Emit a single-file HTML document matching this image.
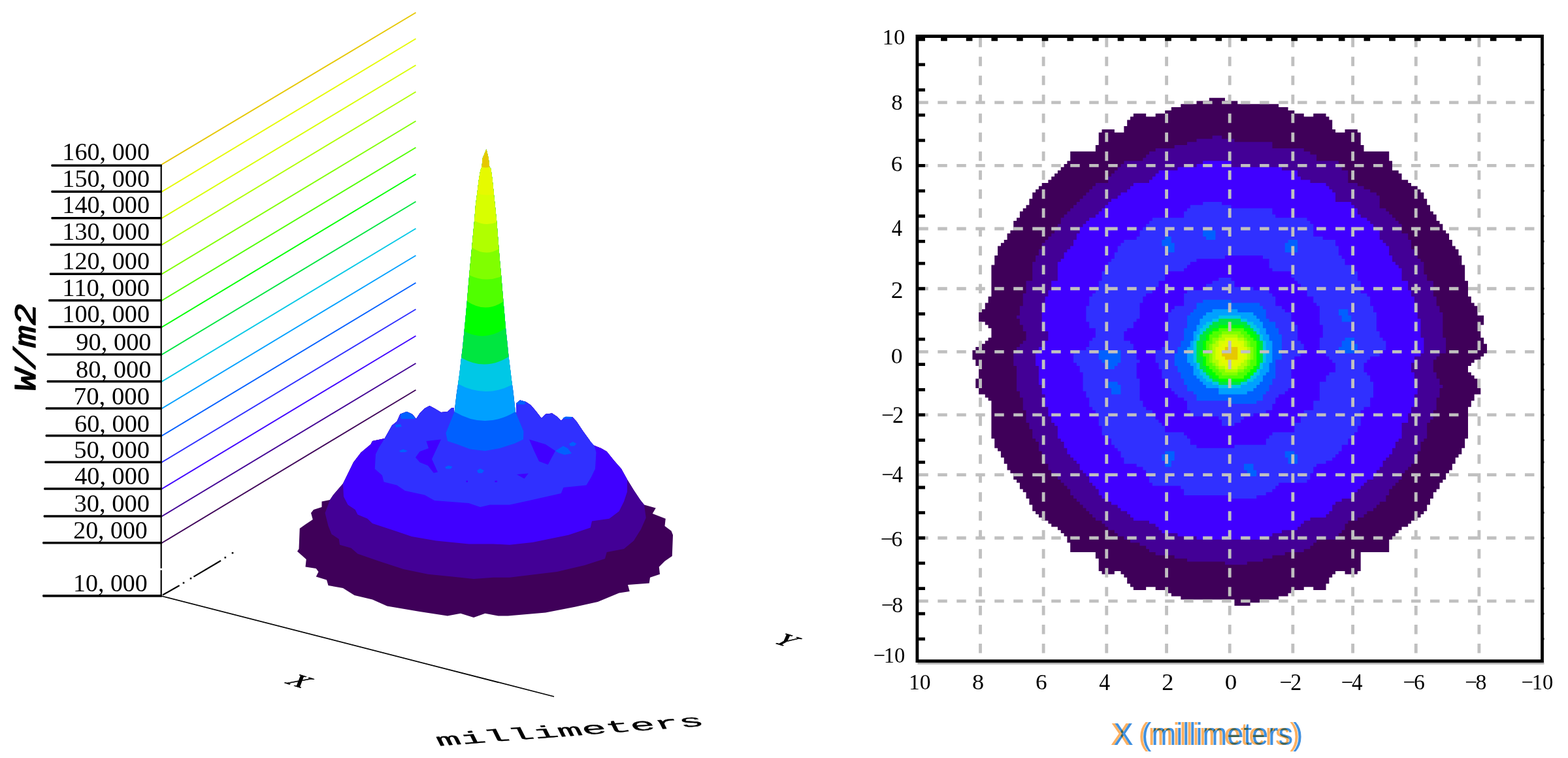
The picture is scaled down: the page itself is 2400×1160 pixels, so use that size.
<!DOCTYPE html>
<html lang="en"><head><meta charset="utf-8"><title>Irradiance plots</title>
<style>html,body{margin:0;padding:0;background:#fff;overflow:hidden}svg{display:block}.zl{font-family:"Liberation Serif",serif;font-size:38px;fill:#000}.tl{font-family:"Liberation Serif",serif;font-size:34px;fill:#000}</style></head><body>
<svg width="2400" height="1160" viewBox="0 0 2400 1160">
<rect width="2400" height="1160" fill="#fff"/>
<g id="plot3d">
<line x1="247.5" y1="251.75" x2="636.5" y2="19.25" stroke="#e6c800" stroke-width="1.9"/>
<line x1="247.5" y1="293.45" x2="636.5" y2="59.25" stroke="#e6fa00" stroke-width="1.9"/>
<line x1="247.5" y1="333.95" x2="636.5" y2="99.75" stroke="#d8ff00" stroke-width="1.9"/>
<line x1="247.5" y1="374.7" x2="636.5" y2="140.5" stroke="#b0ff00" stroke-width="1.9"/>
<line x1="247.5" y1="419.45" x2="636.5" y2="185.25" stroke="#80ff00" stroke-width="1.9"/>
<line x1="247.5" y1="459.95" x2="636.5" y2="225.75" stroke="#50ff00" stroke-width="1.9"/>
<line x1="247.5" y1="500.7" x2="636.5" y2="266.5" stroke="#00ff00" stroke-width="1.9"/>
<line x1="247.5" y1="542.7" x2="636.5" y2="308.5" stroke="#00e640" stroke-width="1.9"/>
<line x1="247.5" y1="583.95" x2="636.5" y2="349.75" stroke="#00c8e6" stroke-width="1.9"/>
<line x1="247.5" y1="625.2" x2="636.5" y2="391" stroke="#00a0ff" stroke-width="1.9"/>
<line x1="247.5" y1="666.95" x2="636.5" y2="432.75" stroke="#0060ff" stroke-width="1.9"/>
<line x1="247.5" y1="707.45" x2="636.5" y2="473.25" stroke="#3030ff" stroke-width="1.9"/>
<line x1="247.5" y1="748.2" x2="636.5" y2="514" stroke="#4000ff" stroke-width="1.9"/>
<line x1="247.5" y1="790.2" x2="636.5" y2="556" stroke="#430096" stroke-width="1.9"/>
<line x1="247.5" y1="830.95" x2="636.5" y2="596.75" stroke="#3f0059" stroke-width="1.9"/>
<g stroke="#000" stroke-width="2.2" fill="#000">
<line x1="249" y1="910.5" x2="274.6" y2="896"/>
<line x1="296.4" y1="882.6" x2="338" y2="858"/>
<rect x="279.7" y="890.7" width="2.6" height="2.6" stroke="none"/>
<rect x="290.7" y="883.9" width="2.6" height="2.6" stroke="none"/>
<rect x="343.5" y="851.9" width="2.6" height="2.6" stroke="none"/>
<rect x="354.7" y="844.9" width="2.6" height="2.6" stroke="none"/>
<line x1="247.5" y1="912.3" x2="848" y2="1066" stroke-width="1.7"/>
</g>
<path d="M246.7 253V869.8M246.7 872.6V912" stroke="#000" stroke-width="2.2" fill="none"/>
<path d="M78.95 251.4H247.9v3.7H78.95q-1.6 -1.85 0 -3.7z" fill="#000"/>
<path d="M78.95 291.4H247.9v3.7H78.95q-1.6 -1.85 0 -3.7z" fill="#000"/>
<path d="M78.95 331.9H247.9v3.7H78.95q-1.6 -1.85 0 -3.7z" fill="#000"/>
<path d="M77.2 372.65H247.9v3.7H77.2q-1.6 -1.85 0 -3.7z" fill="#000"/>
<path d="M76.45 417.4H247.9v3.7H76.45q-1.6 -1.85 0 -3.7z" fill="#000"/>
<path d="M74.7 457.9H247.9v3.7H74.7q-1.6 -1.85 0 -3.7z" fill="#000"/>
<path d="M74.7 498.65H247.9v3.7H74.7q-1.6 -1.85 0 -3.7z" fill="#000"/>
<path d="M72.2 540.65H247.9v3.7H72.2q-1.6 -1.85 0 -3.7z" fill="#000"/>
<path d="M72.2 581.9H247.9v3.7H72.2q-1.6 -1.85 0 -3.7z" fill="#000"/>
<path d="M70.2 623.15H247.9v3.7H70.2q-1.6 -1.85 0 -3.7z" fill="#000"/>
<path d="M70.2 664.9H247.9v3.7H70.2q-1.6 -1.85 0 -3.7z" fill="#000"/>
<path d="M68.95 705.4H247.9v3.7H68.95q-1.6 -1.85 0 -3.7z" fill="#000"/>
<path d="M67.7 746.15H247.9v3.7H67.7q-1.6 -1.85 0 -3.7z" fill="#000"/>
<path d="M67.2 788.15H247.9v3.7H67.2q-1.6 -1.85 0 -3.7z" fill="#000"/>
<path d="M65.7 828.9H247.9v3.7H65.7q-1.6 -1.85 0 -3.7z" fill="#000"/>
<path d="M65.7 910.05H247.9v3.7H65.7q-1.6 -1.85 0 -3.7z" fill="#000"/>
<text font-family='"Liberation Serif",serif' font-size="100" transform="matrix(0.3820,0,0,0.3881,95.31,245.12)">160, 000</text>
<text font-family='"Liberation Serif",serif' font-size="100" transform="matrix(0.3820,0,0,0.3881,95.31,285.87)">150, 000</text>
<text font-family='"Liberation Serif",serif' font-size="100" transform="matrix(0.3820,0,0,0.3881,95.31,326.37)">140, 000</text>
<text font-family='"Liberation Serif",serif' font-size="100" transform="matrix(0.3820,0,0,0.3881,95.31,367.12)">130, 000</text>
<text font-family='"Liberation Serif",serif' font-size="100" transform="matrix(0.3820,0,0,0.3881,95.31,412.12)">120, 000</text>
<text font-family='"Liberation Serif",serif' font-size="100" transform="matrix(0.3866,0,0,0.3881,95.27,453.37)">110, 000</text>
<text font-family='"Liberation Serif",serif' font-size="100" transform="matrix(0.3820,0,0,0.3881,95.31,493.37)">100, 000</text>
<text font-family='"Liberation Serif",serif' font-size="100" transform="matrix(0.3840,0,0,0.3881,116.35,535.87)">90, 000</text>
<text font-family='"Liberation Serif",serif' font-size="100" transform="matrix(0.3853,0,0,0.3881,115.96,578.37)">80, 000</text>
<text font-family='"Liberation Serif",serif' font-size="100" transform="matrix(0.3875,0,0,0.3881,112.79,619.12)">70, 000</text>
<text font-family='"Liberation Serif",serif' font-size="100" transform="matrix(0.3836,0,0,0.3881,113.97,660.87)">60, 000</text>
<text font-family='"Liberation Serif",serif' font-size="100" transform="matrix(0.3862,0,0,0.3881,113.18,700.87)">50, 000</text>
<text font-family='"Liberation Serif",serif' font-size="100" transform="matrix(0.3827,0,0,0.3881,114.23,740.87)">40, 000</text>
<text font-family='"Liberation Serif",serif' font-size="100" transform="matrix(0.3849,0,0,0.3881,113.58,783.37)">30, 000</text>
<text font-family='"Liberation Serif",serif' font-size="100" transform="matrix(0.3784,0,0,0.3881,112.24,824.12)">20, 000</text>
<text font-family='"Liberation Serif",serif' font-size="100" transform="matrix(0.3789,0,0,0.3881,112.09,904.62)">10, 000</text>
<text transform="translate(53.6,599) rotate(-90) scale(1,0.84)" font-family='"Liberation Mono",monospace' font-style="italic" font-size="56" stroke="#000" stroke-width="1.7" stroke-linejoin="round">W/m2</text>
<polygon fill="#3f0059" points="744.4,228.6 747.7,242 749.2,255.7 751.3,258 753.6,274.4 755.9,297 758.1,317.8 760.4,341 762.7,370.2 764.9,397.5 767.2,422.5 769.5,450.3 771.9,477.6 773.9,500.8 776.3,523 778.6,546 780.9,564.2 783.1,582.5 785.4,598.6 788.9,630 801.4,660 790,617.5 796,612.5 805,615 812.5,620 820,628.75 828.75,640 835,633.75 845,632.5 852.5,637.5 858.75,643.75 865,638 876,638 882.5,645 892.5,660 902.5,673.75 905,680 920,686 928.75,691 940,705 951,717.5 960,733.75 970,750 980,765 986,772.5 1003.75,777.5 998.75,786 1018.75,793.75 1017.5,805 1027.5,812.5 1030,818.75 1028.75,851 1017.5,858.75 1008.75,867.5 1010,878.75 995,883.75 993.75,892.5 961,895 963.75,905 947.5,907.5 915,921 880,928.75 835,937.5 777.5,942.5 762.5,942.5 742.5,938.75 725,945 705,938.75 685,942.5 642.5,936 592.5,927.5 570,917.5 542.5,911 525,900 502.5,896 500,887.5 483.75,882.5 487.5,875 483.75,870 467.5,867.5 468.75,856 455,843.75 457.5,840 458.75,808.75 467.5,802.5 478.75,795 476,785 480,780 492.5,776 492.5,767.5 505,765 510,757.5 525,740 530,730 541,707.5 552.5,692.5 567.5,680 570,675 588.75,671 600,651 607.5,645 612.5,633.75 622.5,630 631,633.75 637,641 642.5,632.5 650,625 657.5,621 665,625 675,631 685,630 691,624.5 695,624.5 682.4,662.5 695.6,630 698.7,603.4 701.1,587.4 703.4,571.3 705.7,550.8 708,532.4 710.3,509.2 712.5,487 714.8,461.6 716.9,436.6 719.1,411.6 721.4,387.7 723.7,362.8 726.1,337.8 728.1,312.8 730.7,293.2 733,274.4 735.3,261 737.4,255.7 738.8,242 744.4,228.6"/>
<polygon fill="#430096" points="505,765 497.5,785 502.5,805 507.5,817.5 518.75,825 520,833.75 537.5,838.75 547.5,847.5 580,858.75 617.5,871 655,878.75 692.5,882.5 725,886 755,883.75 780,883.75 802.5,881 852.5,875 895,865 926,855 928.75,845 955,840 970,827.5 981,810 988.75,792.5 986,772.5 986,772.5 980,765 970,750 960,733.75 951,717.5 940,705 928.75,691 920,686 905,680 902.5,673.75 892.5,660 882.5,645 876,638 865,638 858.75,643.75 852.5,637.5 845,632.5 835,633.75 828.75,640 820,628.75 812.5,620 805,615 796,612.5 790,617.5 790,640 695,640 695,624.5 691,624.5 685,630 675,631 665,625 657.5,621 650,625 642.5,632.5 637,641 631,633.75 622.5,630 612.5,633.75 607.5,645 600,651 588.75,671 570,675 567.5,680 552.5,692.5 541,707.5 530,730 525,740 510,757.5 505,765"/>
<polygon fill="#4000ff" points="525,740 526,760 532.5,772.5 543.75,780 547.5,787.5 562.5,793.75 570,801 605,812.5 630,821 667.5,827.5 717.5,832.5 755,832.5 780,833.75 815,830 870,818.75 903.75,807.5 906,797.5 932.5,793.75 947.5,782.5 955,767.5 960,752.5 960,733.75 960,733.75 951,717.5 940,705 928.75,691 920,686 905,680 902.5,673.75 892.5,660 882.5,645 876,638 865,638 858.75,643.75 852.5,637.5 845,632.5 835,633.75 828.75,640 820,628.75 812.5,620 805,615 796,612.5 790,617.5 790,640 695,640 695,624.5 691,624.5 685,630 675,631 665,625 657.5,621 650,625 642.5,632.5 637,641 631,633.75 622.5,630 612.5,633.75 607.5,645 600,651 588.75,671 570,675 567.5,680 552.5,692.5 541,707.5 530,730 525,740"/>
<polygon fill="#3030ff" points="588.75,671 580,685 575,695 573.75,717.5 585,727.5 587.5,737.5 607.5,742.5 620,751 650,757.5 665,766 717.5,770 735,776 750,772.5 780,772.5 810,766 858.75,755 862.5,746 897.5,742.5 905,730 911,717.5 912.5,692.5 910,682.5 902.5,673.75 902.5,673.75 892.5,660 882.5,645 876,638 865,638 858.75,643.75 852.5,637.5 845,632.5 835,633.75 828.75,640 820,628.75 812.5,620 805,615 796,612.5 790,617.5 790,640 695,640 695,624.5 691,624.5 685,630 675,631 665,625 657.5,621 650,625 642.5,632.5 637,641 631,633.75 622.5,630 612.5,633.75 607.5,645 600,651 588.75,671"/>
<polygon fill="#4000ff" points="652.5,675 675,672.5 661,702.5 670,722.5 663.75,723.75 655,712.5 642.5,707.5 636,700 642.5,691 656,686"/>
<polygon fill="#4000ff" points="810,672.5 835,680 850,690 838.75,711 825,706 817.5,690"/>
<polygon fill="#4000ff" points="791,726 808.75,724.5 802.5,732.5"/>
<polygon fill="#4000ff" points="713.5,735.5 716,735.5 716,738 713.5,738"/>
<polygon fill="#4000ff" points="757.5,735.5 761,735.5 761,738 757.5,738"/>
<polygon fill="#0060ff" points="612.5,634 622.5,630 631,634 636,641 614,641"/>
<polygon fill="#0060ff" points="605,650 613,649 615,653 606,654"/>
<polygon fill="#0060ff" points="611,690 617,687.5 624,690 620,692 613,692"/>
<polygon fill="#0060ff" points="681,715 686,712.5 692.5,714 690,717.5 683,717.5"/>
<polygon fill="#0060ff" points="730,720 735,717 741,720 738,724 732,724"/>
<polygon fill="#0060ff" points="850,690 862,682.5 869,686 875,694 864,696 855,693"/>
<polygon fill="#0060ff" points="871,679 877,676 882.5,679 879,682.5 873,682.5"/>
<polygon fill="#0060ff" points="861,640 866,637.5 876,638 874,641 863,641"/>
<polygon fill="#0060ff" points="790,617 796,612.5 805,615 803,619 792,619"/>
<polygon fill="#0060ff" points="744.4,228.6 747.7,242 749.2,255.7 751.3,258 753.6,274.4 755.9,297 758.1,317.8 760.4,341 762.7,370.2 764.9,397.5 767.2,422.5 769.5,450.3 771.9,477.6 773.9,500.8 776.3,523 778.6,546 780.9,564.2 783.1,582.5 785.4,598.6 788.9,630 801.4,660 801,672.5 787.5,678.75 765,686 742.5,690 720,687.5 700,680 685,675 682.4,662.5 695.6,630 698.7,603.4 701.1,587.4 703.4,571.3 705.7,550.8 708,532.4 710.3,509.2 712.5,487 714.8,461.6 716.9,436.6 719.1,411.6 721.4,387.7 723.7,362.8 726.1,337.8 728.1,312.8 730.7,293.2 733,274.4 735.3,261 737.4,255.7 738.8,242 744.4,228.6"/>
<path fill="#00a0ff" d="M695.6 630Q742.25 658 788.9 630L785.4 598.6L783.1 582.5L780.9 564.2L778.6 546L776.3 523L773.9 500.8L771.9 477.6L769.5 450.3L767.2 422.5L764.9 397.5L762.7 370.2L760.4 341L758.1 317.8L755.9 297L753.6 274.4L751.3 258L749.2 255.7L747.7 242L744.4 228.6L738.8 242L737.4 255.7L735.3 261L733 274.4L730.7 293.2L728.1 312.8L726.1 337.8L723.7 362.8L721.4 387.7L719.1 411.6L716.9 436.6L714.8 461.6L712.5 487L710.3 509.2L708 532.4L705.7 550.8L703.4 571.3L701.1 587.4L698.7 603.4Z"/>
<path fill="#00c8e6" d="M701.09 587.5Q742.54 609.88 783.99 588.75L783.1 582.5L780.9 564.2L778.6 546L776.3 523L773.9 500.8L771.9 477.6L769.5 450.3L767.2 422.5L764.9 397.5L762.7 370.2L760.4 341L758.1 317.8L755.9 297L753.6 274.4L751.3 258L749.2 255.7L747.7 242L744.4 228.6L738.8 242L737.4 255.7L735.3 261L733 274.4L730.7 293.2L728.1 312.8L726.1 337.8L723.7 362.8L721.4 387.7L719.1 411.6L716.9 436.6L714.8 461.6L712.5 487L710.3 509.2L708 532.4L705.7 550.8L703.4 571.3L701.1 587.4Z"/>
<path fill="#00e640" d="M706.11 547.5Q742.36 568.25 778.6 546L776.3 523L773.9 500.8L771.9 477.6L769.5 450.3L767.2 422.5L764.9 397.5L762.7 370.2L760.4 341L758.1 317.8L755.9 297L753.6 274.4L751.3 258L749.2 255.7L747.7 242L744.4 228.6L738.8 242L737.4 255.7L735.3 261L733 274.4L730.7 293.2L728.1 312.8L726.1 337.8L723.7 362.8L721.4 387.7L719.1 411.6L716.9 436.6L714.8 461.6L712.5 487L710.3 509.2L708 532.4Z"/>
<path fill="#00ff00" d="M710.52 507Q742.27 523.5 774.03 502L773.9 500.8L771.9 477.6L769.5 450.3L767.2 422.5L764.9 397.5L762.7 370.2L760.4 341L758.1 317.8L755.9 297L753.6 274.4L751.3 258L749.2 255.7L747.7 242L744.4 228.6L738.8 242L737.4 255.7L735.3 261L733 274.4L730.7 293.2L728.1 312.8L726.1 337.8L723.7 362.8L721.4 387.7L719.1 411.6L716.9 436.6L714.8 461.6L712.5 487Z"/>
<path fill="#50ff00" d="M714.85 461Q742.67 479.75 770.48 461.5L769.5 450.3L767.2 422.5L764.9 397.5L762.7 370.2L760.4 341L758.1 317.8L755.9 297L753.6 274.4L751.3 258L749.2 255.7L747.7 242L744.4 228.6L738.8 242L737.4 255.7L735.3 261L733 274.4L730.7 293.2L728.1 312.8L726.1 337.8L723.7 362.8L721.4 387.7L719.1 411.6L716.9 436.6Z"/>
<path fill="#80ff00" d="M718.27 421Q742.76 433 767.24 423L767.2 422.5L764.9 397.5L762.7 370.2L760.4 341L758.1 317.8L755.9 297L753.6 274.4L751.3 258L749.2 255.7L747.7 242L744.4 228.6L738.8 242L737.4 255.7L735.3 261L733 274.4L730.7 293.2L728.1 312.8L726.1 337.8L723.7 362.8L721.4 387.7L719.1 411.6Z"/>
<path fill="#b0ff00" d="M722.22 378.8Q742.9 393.1 763.57 381L762.7 370.2L760.4 341L758.1 317.8L755.9 297L753.6 274.4L751.3 258L749.2 255.7L747.7 242L744.4 228.6L738.8 242L737.4 255.7L735.3 261L733 274.4L730.7 293.2L728.1 312.8L726.1 337.8L723.7 362.8Z"/>
<path fill="#d8ff00" d="M726.1 337.8Q743.2 347.1 760.3 340L758.1 317.8L755.9 297L753.6 274.4L751.3 258L749.2 255.7L747.7 242L744.4 228.6L738.8 242L737.4 255.7L735.3 261L733 274.4L730.7 293.2L728.1 312.8Z"/>
<path fill="#e6fa00" d="M730.33 296Q743.14 300.25 755.95 297.5L755.9 297L753.6 274.4L751.3 258L749.2 255.7L747.7 242L744.4 228.6L738.8 242L737.4 255.7L735.3 261L733 274.4L730.7 293.2Z"/>
<path fill="#e6c800" d="M737.4 255.7Q743.3 257.3 749.2 255.7L747.7 242L744.4 228.6L738.8 242Z"/>
<text font-family='"Liberation Serif",serif' font-size='10' stroke='#000' stroke-width='0.3' stroke-linejoin='round' transform='matrix(3.54,1.107,-3.45,1.96,434.8,1044.8)'>X</text>
<text font-family='"Liberation Serif",serif' font-size='10' stroke='#000' stroke-width='0.3' stroke-linejoin='round' transform='matrix(3.54,1.107,-3.45,1.96,1180.3,982.6)'>Y</text>
<text font-family="'Liberation Mono',monospace" font-size="25.5" stroke="#000" stroke-width="0.35" transform="matrix(2.427,-0.184,0.5,1,671.5,1141.5)">millimeters</text>
</g>
<g id="heat" transform="translate(1401.47,53.05) scale(4.8315,4.829)">
<path fill="#3f0059" d="M93 20h5v1h-5zM89 21h13v1h-13zM84 22h31v1h-31zM81 23h37v1h-37zM79 24h41v1h-41zM69 25h4v1h-4zM76 25h47v1h-47zM126 25h4v1h-4zM68 26h63v1h-63zM67 27h65v1h-65zM67 28h65v1h-65zM66 29h66v1h-66zM59 30h4v1h-4zM66 30h67v1h-67zM136 30h4v1h-4zM58 31h83v1h-83zM58 32h83v1h-83zM58 33h83v1h-83zM58 34h83v1h-83zM57 35h85v1h-85zM57 36h85v1h-85zM49 37h101v1h-101zM49 38h101v1h-101zM49 39h101v1h-101zM48 40h103v1h-103zM47 41h104v1h-104zM46 42h105v1h-105zM45 43h108v1h-108zM44 44h110v1h-110zM43 45h111v1h-111zM42 46h114v1h-114zM40 47h117v1h-117zM39 48h120v1h-120zM38 49h122v1h-122zM37 50h124v1h-124zM37 51h124v1h-124zM36 52h126v1h-126zM36 53h126v1h-126zM35 54h128v1h-128zM34 55h129v1h-129zM33 56h131v1h-131zM33 57h132v1h-132zM32 58h133v1h-133zM31 59h135v1h-135zM31 60h136v1h-136zM31 61h136v1h-136zM30 62h138v1h-138zM29 63h140v1h-140zM29 64h140v1h-140zM28 65h142v1h-142zM27 66h143v1h-143zM26 67h145v1h-145zM26 68h146v1h-146zM26 69h146v1h-146zM25 70h148v1h-148zM25 71h148v1h-148zM25 72h148v1h-148zM24 73h150v1h-150zM24 74h150v1h-150zM24 75h150v1h-150zM24 76h150v1h-150zM24 77h150v1h-150zM24 78h151v1h-151zM24 79h151v1h-151zM24 80h151v1h-151zM24 81h151v1h-151zM24 82h151v1h-151zM23 83h153v1h-153zM23 84h153v1h-153zM22 85h155v1h-155zM22 86h156v1h-156zM21 87h157v1h-157zM20 88h158v1h-158zM20 89h160v1h-160zM20 90h160v1h-160zM22 91h158v1h-158zM23 92h156v1h-156zM24 93h155v1h-155zM24 94h155v1h-155zM24 95h155v1h-155zM23 96h157v1h-157zM22 97h158v1h-158zM21 98h160v1h-160zM19 99h162v1h-162zM18 100h163v1h-163zM18 101h162v1h-162zM18 102h161v1h-161zM19 103h158v1h-158zM19 104h157v1h-157zM20 105h155v1h-155zM20 106h155v1h-155zM20 107h156v1h-156zM20 108h157v1h-157zM19 109h159v1h-159zM19 110h159v1h-159zM19 111h159v1h-159zM20 112h159v1h-159zM20 113h159v1h-159zM22 114h155v1h-155zM23 115h154v1h-154zM24 116h152v1h-152zM24 117h152v1h-152zM24 118h151v1h-151zM24 119h151v1h-151zM24 120h151v1h-151zM24 121h151v1h-151zM24 122h151v1h-151zM24 123h151v1h-151zM24 124h151v1h-151zM24 125h151v1h-151zM24 126h151v1h-151zM24 127h151v1h-151zM25 128h149v1h-149zM25 129h149v1h-149zM25 130h149v1h-149zM26 131h147v1h-147zM27 132h146v1h-146zM27 133h145v1h-145zM28 134h143v1h-143zM28 135h143v1h-143zM29 136h141v1h-141zM29 137h141v1h-141zM30 138h139v1h-139zM31 139h137v1h-137zM31 140h137v1h-137zM32 141h135v1h-135zM33 142h133v1h-133zM33 143h133v1h-133zM34 144h131v1h-131zM35 145h129v1h-129zM35 146h129v1h-129zM36 147h127v1h-127zM36 148h127v1h-127zM37 149h125v1h-125zM37 150h125v1h-125zM38 151h123v1h-123zM39 152h121v1h-121zM40 153h119v1h-119zM42 154h115v1h-115zM43 155h113v1h-113zM45 156h109v1h-109zM46 157h107v1h-107zM47 158h105v1h-105zM48 159h103v1h-103zM48 160h102v1h-102zM49 161h101v1h-101zM49 162h101v1h-101zM49 163h101v1h-101zM57 164h84v1h-84zM57 165h84v1h-84zM58 166h83v1h-83zM58 167h83v1h-83zM58 168h83v1h-83zM58 169h83v1h-83zM59 170h4v1h-4zM65 170h68v1h-68zM136 170h4v1h-4zM66 171h66v1h-66zM67 172h64v1h-64zM67 173h64v1h-64zM68 174h62v1h-62zM69 175h4v1h-4zM76 175h47v1h-47zM126 175h4v1h-4zM80 176h39v1h-39zM81 177h37v1h-37zM84 178h31v1h-31zM101 179h8v1h-8zM101 180h5v1h-5z"/>
<path fill="#430096" d="M94 32h3v1h-3zM89 33h12v1h-12zM86 34h27v1h-27zM82 35h31v1h-31zM76 36h47v1h-47zM74 37h51v1h-51zM73 38h54v1h-54zM72 39h55v1h-55zM66 40h68v1h-68zM65 41h70v1h-70zM64 42h71v1h-71zM63 43h74v1h-74zM62 44h75v1h-75zM61 45h76v1h-76zM61 46h76v1h-76zM57 47h83v1h-83zM56 48h86v1h-86zM55 49h89v1h-89zM54 50h92v1h-92zM53 51h94v1h-94zM52 52h95v1h-95zM51 53h96v1h-96zM50 54h97v1h-97zM49 55h100v1h-100zM48 56h102v1h-102zM47 57h104v1h-104zM46 58h106v1h-106zM46 59h107v1h-107zM45 60h109v1h-109zM44 61h110v1h-110zM44 62h110v1h-110zM43 63h113v1h-113zM42 64h114v1h-114zM41 65h116v1h-116zM40 66h117v1h-117zM40 67h117v1h-117zM39 68h119v1h-119zM39 69h120v1h-120zM38 70h121v1h-121zM38 71h122v1h-122zM37 72h124v1h-124zM37 73h124v1h-124zM37 74h124v1h-124zM37 75h124v1h-124zM37 76h125v1h-125zM37 77h125v1h-125zM35 78h129v1h-129zM35 79h129v1h-129zM35 80h129v1h-129zM35 81h129v1h-129zM34 82h130v1h-130zM34 83h131v1h-131zM34 84h131v1h-131zM34 85h131v1h-131zM33 86h133v1h-133zM33 87h133v1h-133zM33 88h134v1h-134zM32 89h135v1h-135zM33 90h134v1h-134zM33 91h134v1h-134zM34 92h133v1h-133zM34 93h133v1h-133zM35 94h132v1h-132zM35 95h132v1h-132zM35 96h133v1h-133zM34 97h134v1h-134zM33 98h135v1h-135zM32 99h136v1h-136zM32 100h136v1h-136zM31 101h135v1h-135zM31 102h134v1h-134zM31 103h133v1h-133zM31 104h133v1h-133zM32 105h132v1h-132zM32 106h132v1h-132zM32 107h133v1h-133zM32 108h133v1h-133zM32 109h134v1h-134zM32 110h134v1h-134zM32 111h135v1h-135zM32 112h134v1h-134zM33 113h133v1h-133zM33 114h133v1h-133zM34 115h131v1h-131zM34 116h131v1h-131zM34 117h131v1h-131zM34 118h131v1h-131zM35 119h129v1h-129zM35 120h129v1h-129zM35 121h129v1h-129zM35 122h128v1h-128zM36 123h126v1h-126zM36 124h126v1h-126zM37 125h125v1h-125zM37 126h125v1h-125zM37 127h125v1h-125zM38 128h123v1h-123zM39 129h121v1h-121zM39 130h121v1h-121zM39 131h121v1h-121zM40 132h119v1h-119zM40 133h119v1h-119zM41 134h117v1h-117zM41 135h117v1h-117zM42 136h115v1h-115zM42 137h114v1h-114zM43 138h112v1h-112zM44 139h110v1h-110zM45 140h109v1h-109zM46 141h107v1h-107zM47 142h105v1h-105zM48 143h103v1h-103zM49 144h101v1h-101zM49 145h101v1h-101zM50 146h99v1h-99zM51 147h98v1h-98zM52 148h95v1h-95zM53 149h93v1h-93zM54 150h91v1h-91zM55 151h88v1h-88zM56 152h86v1h-86zM57 153h83v1h-83zM59 154h78v1h-78zM60 155h76v1h-76zM61 156h75v1h-75zM63 157h72v1h-72zM64 158h70v1h-70zM66 159h67v1h-67zM68 160h59v1h-59zM71 161h55v1h-55zM73 162h52v1h-52zM74 163h49v1h-49zM76 164h41v1h-41zM82 165h31v1h-31zM86 166h24v1h-24zM98 167h7v1h-7z"/>
<path fill="#4000ff" d="M91 40h9v1h-9zM89 41h11v1h-11zM83 42h33v1h-33zM77 43h44v1h-44zM76 44h45v1h-45zM75 45h47v1h-47zM74 46h51v1h-51zM69 47h61v1h-61zM68 48h63v1h-63zM67 49h65v1h-65zM65 50h68v1h-68zM64 51h69v1h-69zM62 52h71v1h-71zM61 53h77v1h-77zM60 54h79v1h-79zM59 55h81v1h-81zM58 56h82v1h-82zM57 57h84v1h-84zM55 58h88v1h-88zM54 59h90v1h-90zM53 60h92v1h-92zM52 61h94v1h-94zM52 62h95v1h-95zM51 63h96v1h-96zM51 64h96v1h-96zM50 65h98v1h-98zM50 66h99v1h-99zM49 67h101v1h-101zM48 68h102v1h-102zM47 69h103v1h-103zM47 70h104v1h-104zM46 71h105v1h-105zM45 72h107v1h-107zM45 73h108v1h-108zM45 74h109v1h-109zM45 75h109v1h-109zM45 76h109v1h-109zM45 77h109v1h-109zM43 78h113v1h-113zM43 79h113v1h-113zM43 80h113v1h-113zM42 81h115v1h-115zM42 82h115v1h-115zM41 83h117v1h-117zM41 84h117v1h-117zM41 85h117v1h-117zM41 86h117v1h-117zM41 87h117v1h-117zM40 88h119v1h-119zM40 89h119v1h-119zM40 90h120v1h-120zM40 91h120v1h-120zM40 92h120v1h-120zM40 93h120v1h-120zM42 94h118v1h-118zM42 95h118v1h-118zM42 96h119v1h-119zM41 97h120v1h-120zM41 98h120v1h-120zM39 99h122v1h-122zM39 100h122v1h-122zM38 101h122v1h-122zM38 102h120v1h-120zM38 103h120v1h-120zM38 104h119v1h-119zM39 105h118v1h-118zM39 106h118v1h-118zM39 107h119v1h-119zM39 108h119v1h-119zM39 109h119v1h-119zM39 110h119v1h-119zM40 111h118v1h-118zM40 112h119v1h-119zM40 113h119v1h-119zM41 114h117v1h-117zM41 115h117v1h-117zM41 116h117v1h-117zM41 117h117v1h-117zM42 118h115v1h-115zM42 119h115v1h-115zM42 120h114v1h-114zM43 121h113v1h-113zM43 122h113v1h-113zM44 123h110v1h-110zM45 124h109v1h-109zM45 125h109v1h-109zM45 126h109v1h-109zM45 127h109v1h-109zM46 128h107v1h-107zM47 129h105v1h-105zM47 130h105v1h-105zM48 131h103v1h-103zM48 132h103v1h-103zM49 133h101v1h-101zM50 134h99v1h-99zM51 135h97v1h-97zM52 136h96v1h-96zM52 137h95v1h-95zM53 138h93v1h-93zM54 139h92v1h-92zM55 140h90v1h-90zM55 141h88v1h-88zM56 142h86v1h-86zM57 143h84v1h-84zM58 144h82v1h-82zM58 145h81v1h-81zM59 146h79v1h-79zM61 147h74v1h-74zM62 148h71v1h-71zM64 149h68v1h-68zM65 150h67v1h-67zM67 151h64v1h-64zM68 152h62v1h-62zM69 153h56v1h-56zM74 154h49v1h-49zM76 155h46v1h-46zM77 156h44v1h-44zM78 157h38v1h-38zM83 158h30v1h-30zM89 159h20v1h-20z"/>
<path fill="#3030ff" d="M91 53h6v1h-6zM87 54h13v1h-13zM86 55h27v1h-27zM85 56h28v1h-28zM85 57h29v1h-29zM75 58h49v1h-49zM74 59h51v1h-51zM73 60h53v1h-53zM72 61h54v1h-54zM71 62h55v1h-55zM71 63h55v1h-55zM70 64h59v1h-59zM66 65h67v1h-67zM65 66h68v1h-68zM64 67h70v1h-70zM64 68h70v1h-70zM63 69h71v1h-71zM63 70h35v1h-35zM110 70h25v1h-25zM62 71h27v1h-27zM112 71h24v1h-24zM61 72h26v1h-26zM112 72h24v1h-24zM60 73h26v1h-26zM112 73h26v1h-26zM60 74h25v1h-25zM113 74h26v1h-26zM59 75h21v1h-21zM119 75h21v1h-21zM59 76h20v1h-20zM119 76h21v1h-21zM59 77h20v1h-20zM96 77h4v1h-4zM120 77h20v1h-20zM58 78h19v1h-19zM94 78h7v1h-7zM121 78h20v1h-20zM58 79h19v1h-19zM92 79h9v1h-9zM122 79h19v1h-19zM58 80h18v1h-18zM91 80h16v1h-16zM123 80h18v1h-18zM57 81h18v1h-18zM86 81h26v1h-26zM124 81h17v1h-17zM56 82h17v1h-17zM85 82h28v1h-28zM124 82h19v1h-19zM55 83h17v1h-17zM85 83h29v1h-29zM126 83h18v1h-18zM55 84h17v1h-17zM85 84h29v1h-29zM126 84h18v1h-18zM55 85h16v1h-16zM85 85h29v1h-29zM127 85h17v1h-17zM54 86h17v1h-17zM82 86h34v1h-34zM128 86h17v1h-17zM54 87h17v1h-17zM81 87h36v1h-36zM128 87h17v1h-17zM54 88h17v1h-17zM80 88h39v1h-39zM128 88h18v1h-18zM54 89h17v1h-17zM80 89h39v1h-39zM128 89h18v1h-18zM54 90h16v1h-16zM80 90h39v1h-39zM128 90h18v1h-18zM55 91h14v1h-14zM80 91h40v1h-40zM128 91h18v1h-18zM55 92h14v1h-14zM80 92h41v1h-41zM129 92h17v1h-17zM57 93h10v1h-10zM80 93h41v1h-41zM129 93h17v1h-17zM57 94h9v1h-9zM80 94h41v1h-41zM129 94h18v1h-18zM57 95h9v1h-9zM80 95h41v1h-41zM129 95h18v1h-18zM56 96h10v1h-10zM80 96h41v1h-41zM128 96h20v1h-20zM55 97h13v1h-13zM80 97h42v1h-42zM128 97h21v1h-21zM55 98h14v1h-14zM80 98h43v1h-43zM128 98h21v1h-21zM54 99h15v1h-15zM78 99h45v1h-45zM128 99h21v1h-21zM52 100h17v1h-17zM76 100h47v1h-47zM128 100h19v1h-19zM50 101h20v1h-20zM76 101h46v1h-46zM130 101h17v1h-17zM50 102h20v1h-20zM76 102h44v1h-44zM131 102h13v1h-13zM50 103h21v1h-21zM76 103h43v1h-43zM132 103h11v1h-11zM51 104h19v1h-19zM77 104h42v1h-42zM133 104h9v1h-9zM52 105h18v1h-18zM77 105h42v1h-42zM133 105h9v1h-9zM52 106h18v1h-18zM78 106h41v1h-41zM133 106h9v1h-9zM53 107h17v1h-17zM78 107h41v1h-41zM131 107h12v1h-12zM53 108h17v1h-17zM78 108h41v1h-41zM130 108h14v1h-14zM53 109h18v1h-18zM79 109h40v1h-40zM130 109h14v1h-14zM53 110h18v1h-18zM80 110h39v1h-39zM128 110h17v1h-17zM53 111h18v1h-18zM80 111h39v1h-39zM128 111h17v1h-17zM53 112h18v1h-18zM81 112h37v1h-37zM128 112h17v1h-17zM54 113h17v1h-17zM82 113h35v1h-35zM128 113h17v1h-17zM54 114h17v1h-17zM83 114h32v1h-32zM128 114h17v1h-17zM55 115h16v1h-16zM85 115h29v1h-29zM128 115h16v1h-16zM55 116h17v1h-17zM86 116h28v1h-28zM126 116h18v1h-18zM55 117h17v1h-17zM86 117h27v1h-27zM126 117h18v1h-18zM56 118h17v1h-17zM86 118h27v1h-27zM126 118h16v1h-16zM57 119h18v1h-18zM87 119h24v1h-24zM123 119h18v1h-18zM58 120h18v1h-18zM87 120h20v1h-20zM122 120h19v1h-19zM58 121h18v1h-18zM96 121h8v1h-8zM122 121h19v1h-19zM58 122h19v1h-19zM97 122h6v1h-6zM122 122h19v1h-19zM58 123h20v1h-20zM97 123h4v1h-4zM120 123h21v1h-21zM59 124h20v1h-20zM120 124h20v1h-20zM59 125h20v1h-20zM120 125h20v1h-20zM59 126h26v1h-26zM113 126h26v1h-26zM60 127h26v1h-26zM112 127h27v1h-27zM62 128h25v1h-25zM111 128h26v1h-26zM62 129h25v1h-25zM111 129h26v1h-26zM63 130h26v1h-26zM101 130h34v1h-34zM64 131h71v1h-71zM65 132h69v1h-69zM65 133h68v1h-68zM66 134h66v1h-66zM66 135h64v1h-64zM70 136h57v1h-57zM72 137h54v1h-54zM73 138h53v1h-53zM73 139h52v1h-52zM74 140h51v1h-51zM74 141h50v1h-50zM75 142h40v1h-40zM84 143h30v1h-30zM85 144h28v1h-28zM85 145h26v1h-26zM100 146h8v1h-8z"/>
<path fill="#0060ff" d="M91 62h4v1h-4zM91 63h4v1h-4zM79 64h2v1h-2zM92 64h3v1h-3zM78 65h3v1h-3zM118 65h3v1h-3zM78 66h4v1h-4zM117 66h4v1h-4zM79 67h3v1h-3zM117 67h4v1h-4zM79 68h3v1h-3zM117 68h4v1h-4zM91 84h9v1h-9zM89 85h20v1h-20zM89 86h21v1h-21zM88 87h23v1h-23zM134 87h3v1h-3zM87 88h24v1h-24zM134 88h3v1h-3zM86 89h25v1h-25zM135 89h3v1h-3zM86 90h26v1h-26zM135 90h3v1h-3zM86 91h28v1h-28zM86 92h28v1h-28zM85 93h30v1h-30zM85 94h30v1h-30zM85 95h31v1h-31zM85 96h31v1h-31zM136 96h3v1h-3zM84 97h32v1h-32zM135 97h4v1h-4zM84 98h32v1h-32zM135 98h5v1h-5zM83 99h33v1h-33zM134 99h6v1h-6zM58 100h7v1h-7zM83 100h33v1h-33zM134 100h6v1h-6zM58 101h7v1h-7zM82 101h34v1h-34zM58 102h7v1h-7zM82 102h34v1h-34zM59 103h6v1h-6zM82 103h32v1h-32zM60 104h4v1h-4zM82 104h32v1h-32zM60 105h3v1h-3zM83 105h31v1h-31zM83 106h31v1h-31zM84 107h30v1h-30zM84 108h30v1h-30zM85 109h28v1h-28zM61 110h3v1h-3zM85 110h28v1h-28zM61 111h4v1h-4zM86 111h26v1h-26zM62 112h3v1h-3zM86 112h26v1h-26zM62 113h3v1h-3zM88 113h23v1h-23zM89 114h21v1h-21zM89 115h21v1h-21zM100 116h8v1h-8zM79 132h3v1h-3zM117 132h3v1h-3zM78 133h4v1h-4zM117 133h4v1h-4zM78 134h4v1h-4zM118 134h3v1h-3zM79 135h2v1h-2zM118 135h3v1h-3zM79 136h2v1h-2zM104 136h3v1h-3zM104 137h3v1h-3zM105 138h3v1h-3zM105 139h3v1h-3z"/>
<path fill="#00a0ff" d="M94 87h8v1h-8zM92 88h15v1h-15zM91 89h17v1h-17zM90 90h19v1h-19zM90 91h20v1h-20zM89 92h21v1h-21zM89 93h22v1h-22zM88 94h23v1h-23zM88 95h24v1h-24zM88 96h24v1h-24zM87 97h26v1h-26zM87 98h26v1h-26zM86 99h27v1h-27zM86 100h27v1h-27zM86 101h27v1h-27zM86 102h27v1h-27zM86 103h27v1h-27zM87 104h25v1h-25zM88 105h24v1h-24zM88 106h24v1h-24zM88 107h23v1h-23zM89 108h21v1h-21zM90 109h20v1h-20zM91 110h18v1h-18zM92 111h16v1h-16zM96 112h11v1h-11zM96 113h9v1h-9z"/>
<path fill="#00c8e6" d="M96 89h7v1h-7zM94 90h11v1h-11zM92 91h15v1h-15zM91 92h17v1h-17zM90 93h19v1h-19zM90 94h19v1h-19zM89 95h21v1h-21zM89 96h21v1h-21zM88 97h23v1h-23zM88 98h23v1h-23zM88 99h23v1h-23zM88 100h23v1h-23zM88 101h23v1h-23zM88 102h23v1h-23zM88 103h23v1h-23zM89 104h21v1h-21zM89 105h21v1h-21zM90 106h19v1h-19zM90 107h19v1h-19zM91 108h17v1h-17zM92 109h15v1h-15zM94 110h11v1h-11zM96 111h7v1h-7z"/>
<path fill="#00e640" d="M96 90h7v1h-7zM94 91h11v1h-11zM93 92h13v1h-13zM92 93h15v1h-15zM91 94h17v1h-17zM90 95h19v1h-19zM90 96h19v1h-19zM89 97h21v1h-21zM89 98h21v1h-21zM89 99h21v1h-21zM89 100h21v1h-21zM89 101h21v1h-21zM89 102h21v1h-21zM89 103h21v1h-21zM90 104h19v1h-19zM90 105h19v1h-19zM91 106h17v1h-17zM92 107h15v1h-15zM93 108h13v1h-13zM94 109h11v1h-11zM96 110h7v1h-7z"/>
<path fill="#00ff00" d="M99 91h1v1h-1zM96 92h8v1h-8zM94 93h12v1h-12zM93 94h14v1h-14zM92 95h16v1h-16zM92 96h16v1h-16zM91 97h18v1h-18zM91 98h18v1h-18zM91 99h18v1h-18zM90 100h19v1h-19zM90 101h19v1h-19zM91 102h18v1h-18zM91 103h18v1h-18zM91 104h18v1h-18zM92 105h16v1h-16zM92 106h16v1h-16zM93 107h14v1h-14zM94 108h12v1h-12zM96 109h8v1h-8z"/>
<path fill="#50ff00" d="M99 92h1v1h-1zM96 93h8v1h-8zM94 94h11v1h-11zM93 95h13v1h-13zM93 96h14v1h-14zM92 97h16v1h-16zM92 98h16v1h-16zM92 99h16v1h-16zM91 100h17v1h-17zM91 101h17v1h-17zM92 102h16v1h-16zM92 103h16v1h-16zM92 104h16v1h-16zM93 105h14v1h-14zM94 106h12v1h-12zM95 107h10v1h-10zM96 108h8v1h-8z"/>
<path fill="#80ff00" d="M97 94h6v1h-6zM96 95h8v1h-8zM94 96h11v1h-11zM94 97h12v1h-12zM93 98h13v1h-13zM93 99h14v1h-14zM93 100h14v1h-14zM93 101h14v1h-14zM93 102h14v1h-14zM93 103h13v1h-13zM94 104h12v1h-12zM95 105h10v1h-10zM96 106h8v1h-8zM97 107h5v1h-5z"/>
<path fill="#b0ff00" d="M97 95h5v1h-5zM96 96h8v1h-8zM95 97h10v1h-10zM94 98h11v1h-11zM94 99h12v1h-12zM94 100h12v1h-12zM94 101h12v1h-12zM94 102h12v1h-12zM94 103h11v1h-11zM95 104h10v1h-10zM96 105h8v1h-8zM98 106h4v1h-4z"/>
<path fill="#d8ff00" d="M98 96h4v1h-4zM96 97h8v1h-8zM96 98h8v1h-8zM95 99h10v1h-10zM95 100h10v1h-10zM95 101h10v1h-10zM95 102h10v1h-10zM96 103h8v1h-8zM96 104h7v1h-7zM98 105h4v1h-4z"/>
<path fill="#e6fa00" d="M98 97h4v1h-4zM97 98h6v1h-6zM96 99h8v1h-8zM96 100h8v1h-8zM96 101h8v1h-8zM96 102h8v1h-8zM97 103h6v1h-6zM98 104h4v1h-4z"/>
<path fill="#e6c800" d="M98 99h4v1h-4zM97 100h5v1h-5zM97 101h5v1h-5zM98 102h4v1h-4z"/>
<path fill="#c0c0c0" d="M1 21h3v1h-3zM7 21h3v1h-3zM13 21h3v1h-3zM19 21h3v1h-3zM25 21h3v1h-3zM31 21h3v1h-3zM37 21h3v1h-3zM43 21h3v1h-3zM49 21h3v1h-3zM55 21h3v1h-3zM61 21h3v1h-3zM67 21h3v1h-3zM73 21h3v1h-3zM79 21h3v1h-3zM85 21h3v1h-3zM91 21h3v1h-3zM97 21h3v1h-3zM103 21h3v1h-3zM109 21h3v1h-3zM115 21h3v1h-3zM121 21h3v1h-3zM127 21h3v1h-3zM133 21h3v1h-3zM139 21h3v1h-3zM145 21h3v1h-3zM151 21h3v1h-3zM157 21h3v1h-3zM163 21h3v1h-3zM169 21h3v1h-3zM175 21h3v1h-3zM181 21h3v1h-3zM187 21h3v1h-3zM193 21h3v1h-3zM1 41h3v1h-3zM7 41h3v1h-3zM13 41h3v1h-3zM19 41h3v1h-3zM25 41h3v1h-3zM31 41h3v1h-3zM37 41h3v1h-3zM43 41h3v1h-3zM49 41h3v1h-3zM55 41h3v1h-3zM61 41h3v1h-3zM67 41h3v1h-3zM73 41h3v1h-3zM79 41h3v1h-3zM85 41h3v1h-3zM91 41h3v1h-3zM97 41h3v1h-3zM103 41h3v1h-3zM109 41h3v1h-3zM115 41h3v1h-3zM121 41h3v1h-3zM127 41h3v1h-3zM133 41h3v1h-3zM139 41h3v1h-3zM145 41h3v1h-3zM151 41h3v1h-3zM157 41h3v1h-3zM163 41h3v1h-3zM169 41h3v1h-3zM175 41h3v1h-3zM181 41h3v1h-3zM187 41h3v1h-3zM193 41h3v1h-3zM1 61h3v1h-3zM7 61h3v1h-3zM13 61h3v1h-3zM19 61h3v1h-3zM25 61h3v1h-3zM31 61h3v1h-3zM37 61h3v1h-3zM43 61h3v1h-3zM49 61h3v1h-3zM55 61h3v1h-3zM61 61h3v1h-3zM67 61h3v1h-3zM73 61h3v1h-3zM79 61h3v1h-3zM85 61h3v1h-3zM91 61h3v1h-3zM97 61h3v1h-3zM103 61h3v1h-3zM109 61h3v1h-3zM115 61h3v1h-3zM121 61h3v1h-3zM127 61h3v1h-3zM133 61h3v1h-3zM139 61h3v1h-3zM145 61h3v1h-3zM151 61h3v1h-3zM157 61h3v1h-3zM163 61h3v1h-3zM169 61h3v1h-3zM175 61h3v1h-3zM181 61h3v1h-3zM187 61h3v1h-3zM193 61h3v1h-3zM1 80h3v1h-3zM7 80h3v1h-3zM13 80h3v1h-3zM19 80h3v1h-3zM25 80h3v1h-3zM31 80h3v1h-3zM37 80h3v1h-3zM43 80h3v1h-3zM49 80h3v1h-3zM55 80h3v1h-3zM61 80h3v1h-3zM67 80h3v1h-3zM73 80h3v1h-3zM79 80h3v1h-3zM85 80h3v1h-3zM91 80h3v1h-3zM97 80h3v1h-3zM103 80h3v1h-3zM109 80h3v1h-3zM115 80h3v1h-3zM121 80h3v1h-3zM127 80h3v1h-3zM133 80h3v1h-3zM139 80h3v1h-3zM145 80h3v1h-3zM151 80h3v1h-3zM157 80h3v1h-3zM163 80h3v1h-3zM169 80h3v1h-3zM175 80h3v1h-3zM181 80h3v1h-3zM187 80h3v1h-3zM193 80h3v1h-3zM1 100h3v1h-3zM7 100h3v1h-3zM13 100h3v1h-3zM19 100h3v1h-3zM25 100h3v1h-3zM31 100h3v1h-3zM37 100h3v1h-3zM43 100h3v1h-3zM49 100h3v1h-3zM55 100h3v1h-3zM61 100h3v1h-3zM67 100h3v1h-3zM73 100h3v1h-3zM79 100h3v1h-3zM85 100h3v1h-3zM91 100h3v1h-3zM97 100h3v1h-3zM103 100h3v1h-3zM109 100h3v1h-3zM115 100h3v1h-3zM121 100h3v1h-3zM127 100h3v1h-3zM133 100h3v1h-3zM139 100h3v1h-3zM145 100h3v1h-3zM151 100h3v1h-3zM157 100h3v1h-3zM163 100h3v1h-3zM169 100h3v1h-3zM175 100h3v1h-3zM181 100h3v1h-3zM187 100h3v1h-3zM193 100h3v1h-3zM1 120h3v1h-3zM7 120h3v1h-3zM13 120h3v1h-3zM19 120h3v1h-3zM25 120h3v1h-3zM31 120h3v1h-3zM37 120h3v1h-3zM43 120h3v1h-3zM49 120h3v1h-3zM55 120h3v1h-3zM61 120h3v1h-3zM67 120h3v1h-3zM73 120h3v1h-3zM79 120h3v1h-3zM85 120h3v1h-3zM91 120h3v1h-3zM97 120h3v1h-3zM103 120h3v1h-3zM109 120h3v1h-3zM115 120h3v1h-3zM121 120h3v1h-3zM127 120h3v1h-3zM133 120h3v1h-3zM139 120h3v1h-3zM145 120h3v1h-3zM151 120h3v1h-3zM157 120h3v1h-3zM163 120h3v1h-3zM169 120h3v1h-3zM175 120h3v1h-3zM181 120h3v1h-3zM187 120h3v1h-3zM193 120h3v1h-3zM1 139h3v1h-3zM7 139h3v1h-3zM13 139h3v1h-3zM19 139h3v1h-3zM25 139h3v1h-3zM31 139h3v1h-3zM37 139h3v1h-3zM43 139h3v1h-3zM49 139h3v1h-3zM55 139h3v1h-3zM61 139h3v1h-3zM67 139h3v1h-3zM73 139h3v1h-3zM79 139h3v1h-3zM85 139h3v1h-3zM91 139h3v1h-3zM97 139h3v1h-3zM103 139h3v1h-3zM109 139h3v1h-3zM115 139h3v1h-3zM121 139h3v1h-3zM127 139h3v1h-3zM133 139h3v1h-3zM139 139h3v1h-3zM145 139h3v1h-3zM151 139h3v1h-3zM157 139h3v1h-3zM163 139h3v1h-3zM169 139h3v1h-3zM175 139h3v1h-3zM181 139h3v1h-3zM187 139h3v1h-3zM193 139h3v1h-3zM1 159h3v1h-3zM7 159h3v1h-3zM13 159h3v1h-3zM19 159h3v1h-3zM25 159h3v1h-3zM31 159h3v1h-3zM37 159h3v1h-3zM43 159h3v1h-3zM49 159h3v1h-3zM55 159h3v1h-3zM61 159h3v1h-3zM67 159h3v1h-3zM73 159h3v1h-3zM79 159h3v1h-3zM85 159h3v1h-3zM91 159h3v1h-3zM97 159h3v1h-3zM103 159h3v1h-3zM109 159h3v1h-3zM115 159h3v1h-3zM121 159h3v1h-3zM127 159h3v1h-3zM133 159h3v1h-3zM139 159h3v1h-3zM145 159h3v1h-3zM151 159h3v1h-3zM157 159h3v1h-3zM163 159h3v1h-3zM169 159h3v1h-3zM175 159h3v1h-3zM181 159h3v1h-3zM187 159h3v1h-3zM193 159h3v1h-3zM1 179h3v1h-3zM7 179h3v1h-3zM13 179h3v1h-3zM19 179h3v1h-3zM25 179h3v1h-3zM31 179h3v1h-3zM37 179h3v1h-3zM43 179h3v1h-3zM49 179h3v1h-3zM55 179h3v1h-3zM61 179h3v1h-3zM67 179h3v1h-3zM73 179h3v1h-3zM79 179h3v1h-3zM85 179h3v1h-3zM91 179h3v1h-3zM97 179h3v1h-3zM103 179h3v1h-3zM109 179h3v1h-3zM115 179h3v1h-3zM121 179h3v1h-3zM127 179h3v1h-3zM133 179h3v1h-3zM139 179h3v1h-3zM145 179h3v1h-3zM151 179h3v1h-3zM157 179h3v1h-3zM163 179h3v1h-3zM169 179h3v1h-3zM175 179h3v1h-3zM181 179h3v1h-3zM187 179h3v1h-3zM193 179h3v1h-3zM20 1h1v3h-1zM20 7h1v3h-1zM20 13h1v3h-1zM20 19h1v3h-1zM20 25h1v3h-1zM20 31h1v3h-1zM20 37h1v3h-1zM20 43h1v3h-1zM20 49h1v3h-1zM20 55h1v3h-1zM20 61h1v3h-1zM20 67h1v3h-1zM20 73h1v3h-1zM20 79h1v3h-1zM20 85h1v3h-1zM20 91h1v3h-1zM20 97h1v3h-1zM20 103h1v3h-1zM20 109h1v3h-1zM20 115h1v3h-1zM20 121h1v3h-1zM20 127h1v3h-1zM20 133h1v3h-1zM20 139h1v3h-1zM20 145h1v3h-1zM20 151h1v3h-1zM20 157h1v3h-1zM20 163h1v3h-1zM20 169h1v3h-1zM20 175h1v3h-1zM20 181h1v3h-1zM20 187h1v3h-1zM20 193h1v3h-1zM40 1h1v3h-1zM40 7h1v3h-1zM40 13h1v3h-1zM40 19h1v3h-1zM40 25h1v3h-1zM40 31h1v3h-1zM40 37h1v3h-1zM40 43h1v3h-1zM40 49h1v3h-1zM40 55h1v3h-1zM40 61h1v3h-1zM40 67h1v3h-1zM40 73h1v3h-1zM40 79h1v3h-1zM40 85h1v3h-1zM40 91h1v3h-1zM40 97h1v3h-1zM40 103h1v3h-1zM40 109h1v3h-1zM40 115h1v3h-1zM40 121h1v3h-1zM40 127h1v3h-1zM40 133h1v3h-1zM40 139h1v3h-1zM40 145h1v3h-1zM40 151h1v3h-1zM40 157h1v3h-1zM40 163h1v3h-1zM40 169h1v3h-1zM40 175h1v3h-1zM40 181h1v3h-1zM40 187h1v3h-1zM40 193h1v3h-1zM60 1h1v3h-1zM60 7h1v3h-1zM60 13h1v3h-1zM60 19h1v3h-1zM60 25h1v3h-1zM60 31h1v3h-1zM60 37h1v3h-1zM60 43h1v3h-1zM60 49h1v3h-1zM60 55h1v3h-1zM60 61h1v3h-1zM60 67h1v3h-1zM60 73h1v3h-1zM60 79h1v3h-1zM60 85h1v3h-1zM60 91h1v3h-1zM60 97h1v3h-1zM60 103h1v3h-1zM60 109h1v3h-1zM60 115h1v3h-1zM60 121h1v3h-1zM60 127h1v3h-1zM60 133h1v3h-1zM60 139h1v3h-1zM60 145h1v3h-1zM60 151h1v3h-1zM60 157h1v3h-1zM60 163h1v3h-1zM60 169h1v3h-1zM60 175h1v3h-1zM60 181h1v3h-1zM60 187h1v3h-1zM60 193h1v3h-1zM79 1h1v3h-1zM79 7h1v3h-1zM79 13h1v3h-1zM79 19h1v3h-1zM79 25h1v3h-1zM79 31h1v3h-1zM79 37h1v3h-1zM79 43h1v3h-1zM79 49h1v3h-1zM79 55h1v3h-1zM79 61h1v3h-1zM79 67h1v3h-1zM79 73h1v3h-1zM79 79h1v3h-1zM79 85h1v3h-1zM79 91h1v3h-1zM79 97h1v3h-1zM79 103h1v3h-1zM79 109h1v3h-1zM79 115h1v3h-1zM79 121h1v3h-1zM79 127h1v3h-1zM79 133h1v3h-1zM79 139h1v3h-1zM79 145h1v3h-1zM79 151h1v3h-1zM79 157h1v3h-1zM79 163h1v3h-1zM79 169h1v3h-1zM79 175h1v3h-1zM79 181h1v3h-1zM79 187h1v3h-1zM79 193h1v3h-1zM99 1h1v3h-1zM99 7h1v3h-1zM99 13h1v3h-1zM99 19h1v3h-1zM99 25h1v3h-1zM99 31h1v3h-1zM99 37h1v3h-1zM99 43h1v3h-1zM99 49h1v3h-1zM99 55h1v3h-1zM99 61h1v3h-1zM99 67h1v3h-1zM99 73h1v3h-1zM99 79h1v3h-1zM99 85h1v3h-1zM99 91h1v3h-1zM99 97h1v3h-1zM99 103h1v3h-1zM99 109h1v3h-1zM99 115h1v3h-1zM99 121h1v3h-1zM99 127h1v3h-1zM99 133h1v3h-1zM99 139h1v3h-1zM99 145h1v3h-1zM99 151h1v3h-1zM99 157h1v3h-1zM99 163h1v3h-1zM99 169h1v3h-1zM99 175h1v3h-1zM99 181h1v3h-1zM99 187h1v3h-1zM99 193h1v3h-1zM119 1h1v3h-1zM119 7h1v3h-1zM119 13h1v3h-1zM119 19h1v3h-1zM119 25h1v3h-1zM119 31h1v3h-1zM119 37h1v3h-1zM119 43h1v3h-1zM119 49h1v3h-1zM119 55h1v3h-1zM119 61h1v3h-1zM119 67h1v3h-1zM119 73h1v3h-1zM119 79h1v3h-1zM119 85h1v3h-1zM119 91h1v3h-1zM119 97h1v3h-1zM119 103h1v3h-1zM119 109h1v3h-1zM119 115h1v3h-1zM119 121h1v3h-1zM119 127h1v3h-1zM119 133h1v3h-1zM119 139h1v3h-1zM119 145h1v3h-1zM119 151h1v3h-1zM119 157h1v3h-1zM119 163h1v3h-1zM119 169h1v3h-1zM119 175h1v3h-1zM119 181h1v3h-1zM119 187h1v3h-1zM119 193h1v3h-1zM138 1h1v3h-1zM138 7h1v3h-1zM138 13h1v3h-1zM138 19h1v3h-1zM138 25h1v3h-1zM138 31h1v3h-1zM138 37h1v3h-1zM138 43h1v3h-1zM138 49h1v3h-1zM138 55h1v3h-1zM138 61h1v3h-1zM138 67h1v3h-1zM138 73h1v3h-1zM138 79h1v3h-1zM138 85h1v3h-1zM138 91h1v3h-1zM138 97h1v3h-1zM138 103h1v3h-1zM138 109h1v3h-1zM138 115h1v3h-1zM138 121h1v3h-1zM138 127h1v3h-1zM138 133h1v3h-1zM138 139h1v3h-1zM138 145h1v3h-1zM138 151h1v3h-1zM138 157h1v3h-1zM138 163h1v3h-1zM138 169h1v3h-1zM138 175h1v3h-1zM138 181h1v3h-1zM138 187h1v3h-1zM138 193h1v3h-1zM158 1h1v3h-1zM158 7h1v3h-1zM158 13h1v3h-1zM158 19h1v3h-1zM158 25h1v3h-1zM158 31h1v3h-1zM158 37h1v3h-1zM158 43h1v3h-1zM158 49h1v3h-1zM158 55h1v3h-1zM158 61h1v3h-1zM158 67h1v3h-1zM158 73h1v3h-1zM158 79h1v3h-1zM158 85h1v3h-1zM158 91h1v3h-1zM158 97h1v3h-1zM158 103h1v3h-1zM158 109h1v3h-1zM158 115h1v3h-1zM158 121h1v3h-1zM158 127h1v3h-1zM158 133h1v3h-1zM158 139h1v3h-1zM158 145h1v3h-1zM158 151h1v3h-1zM158 157h1v3h-1zM158 163h1v3h-1zM158 169h1v3h-1zM158 175h1v3h-1zM158 181h1v3h-1zM158 187h1v3h-1zM158 193h1v3h-1zM178 1h1v3h-1zM178 7h1v3h-1zM178 13h1v3h-1zM178 19h1v3h-1zM178 25h1v3h-1zM178 31h1v3h-1zM178 37h1v3h-1zM178 43h1v3h-1zM178 49h1v3h-1zM178 55h1v3h-1zM178 61h1v3h-1zM178 67h1v3h-1zM178 73h1v3h-1zM178 79h1v3h-1zM178 85h1v3h-1zM178 91h1v3h-1zM178 97h1v3h-1zM178 103h1v3h-1zM178 109h1v3h-1zM178 115h1v3h-1zM178 121h1v3h-1zM178 127h1v3h-1zM178 133h1v3h-1zM178 139h1v3h-1zM178 145h1v3h-1zM178 151h1v3h-1zM178 157h1v3h-1zM178 163h1v3h-1zM178 169h1v3h-1zM178 175h1v3h-1zM178 181h1v3h-1zM178 187h1v3h-1zM178 193h1v3h-1z"/>
<path fill="#000" fill-rule="evenodd" d="M0 0h199v199h-199zM1 1v197h197v-197zM1 9h2v1h-2zM199 9.2h0.12v0.6h-0.12zM1 17h2v1h-2zM199 17.2h0.12v0.6h-0.12zM1 25h2v1h-2zM199 25.2h0.12v0.6h-0.12zM1 33h2v1h-2zM199 33.2h0.12v0.6h-0.12zM1 41h2v1h-2zM199 41.2h0.12v0.6h-0.12zM1 49h2v1h-2zM199 49.2h0.12v0.6h-0.12zM1 57h2v1h-2zM199 57.2h0.12v0.6h-0.12zM1 65h2v1h-2zM199 65.2h0.12v0.6h-0.12zM1 72h2v1h-2zM199 72.2h0.12v0.6h-0.12zM1 80h2v1h-2zM199 80.2h0.12v0.6h-0.12zM1 88h2v1h-2zM199 88.2h0.12v0.6h-0.12zM1 96h2v1h-2zM199 96.2h0.12v0.6h-0.12zM1 104h2v1h-2zM199 104.2h0.12v0.6h-0.12zM1 112h2v1h-2zM199 112.2h0.12v0.6h-0.12zM1 120h2v1h-2zM199 120.2h0.12v0.6h-0.12zM1 128h2v1h-2zM199 128.2h0.12v0.6h-0.12zM1 135h2v1h-2zM199 135.2h0.12v0.6h-0.12zM1 143h2v1h-2zM199 143.2h0.12v0.6h-0.12zM1 151h2v1h-2zM199 151.2h0.12v0.6h-0.12zM1 159h2v1h-2zM199 159.2h0.12v0.6h-0.12zM1 167h2v1h-2zM199 167.2h0.12v0.6h-0.12zM1 175h2v1h-2zM199 175.2h0.12v0.6h-0.12zM1 183h2v1h-2zM199 183.2h0.12v0.6h-0.12zM1 191h2v1h-2zM199 191.2h0.12v0.6h-0.12zM1 1h2v1h-2zM8 1h2v1h-2zM16 1h2v1h-2zM24 1h2v1h-2zM32 1h2v1h-2zM40 1h2v1h-2zM48 1h2v1h-2zM56 1h2v1h-2zM64 1h2v1h-2zM71 1h2v1h-2zM79 1h2v1h-2zM87 1h2v1h-2zM95 1h2v1h-2zM103 1h2v1h-2zM111 1h2v1h-2zM119 1h2v1h-2zM127 1h2v1h-2zM134 1h2v1h-2zM142 1h2v1h-2zM150 1h2v1h-2zM158 1h2v1h-2zM166 1h2v1h-2zM174 1h2v1h-2zM182 1h2v1h-2zM190 1h2v1h-2z"/>
<rect x="0.6" y="199" width="198.5" height="0.55" fill="#b0b0b0"/>
</g>
<text font-family='"Liberation Serif",serif' font-size="100" transform="matrix(0.3471,0,0,0.3324,1350.58,68.14)">10</text>
<text font-family='"Liberation Serif",serif' font-size="100" transform="matrix(0.3476,0,0,0.3373,1364.21,168.33)">8</text>
<text font-family='"Liberation Serif",serif' font-size="100" transform="matrix(0.3512,0,0,0.3373,1363.70,262.13)">6</text>
<text font-family='"Liberation Serif",serif' font-size="100" transform="matrix(0.3261,0,0,0.3477,1364.65,361.00)">4</text>
<text font-family='"Liberation Serif",serif' font-size="100" transform="matrix(0.3750,0,0,0.3477,1363.80,456.20)">2</text>
<text font-family='"Liberation Serif",serif' font-size="100" transform="matrix(0.3571,0,0,0.3373,1363.87,555.93)">0</text>
<text font-family='"Liberation Serif",serif' font-size="100" transform="matrix(0.3438,0,0,0.3477,1349.08,647.00)">−<tspan dx="-7">2</tspan></text>
<text font-family='"Liberation Serif",serif' font-size="100" transform="matrix(0.3290,0,0,0.3477,1349.15,738.00)">−<tspan dx="-7">4</tspan></text>
<text font-family='"Liberation Serif",serif' font-size="100" transform="matrix(0.3429,0,0,0.3373,1347.39,836.33)">−<tspan dx="-7">6</tspan></text>
<text font-family='"Liberation Serif",serif' font-size="100" transform="matrix(0.3385,0,0,0.3373,1348.51,937.43)">−<tspan dx="-7">8</tspan></text>
<text font-family='"Liberation Serif",serif' font-size="100" transform="matrix(0.3255,0,0,0.3324,1336.67,1013.74)">−<tspan dx="-7">10</tspan></text>
<text font-family='"Liberation Serif",serif' font-size="100" transform="matrix(0.3368,0,0,0.3353,1390.97,1055.33)">10</text>
<text font-family='"Liberation Serif",serif' font-size="100" transform="matrix(0.3619,0,0,0.3403,1487.95,1055.32)">8</text>
<text font-family='"Liberation Serif",serif' font-size="100" transform="matrix(0.3535,0,0,0.3403,1584.89,1055.32)">6</text>
<text font-family='"Liberation Serif",serif' font-size="100" transform="matrix(0.3370,0,0,0.3508,1682.33,1056.00)">4</text>
<text font-family='"Liberation Serif",serif' font-size="100" transform="matrix(0.3625,0,0,0.3508,1778.35,1056.00)">2</text>
<text font-family='"Liberation Serif",serif' font-size="100" transform="matrix(0.3714,0,0,0.3403,1874.71,1055.32)">0</text>
<text font-family='"Liberation Serif",serif' font-size="100" transform="matrix(0.3404,0,0,0.3508,1958.50,1056.00)">−<tspan dx="-7">2</tspan></text>
<text font-family='"Liberation Serif",serif' font-size="100" transform="matrix(0.3312,0,0,0.3508,2052.74,1056.00)">−<tspan dx="-7">4</tspan></text>
<text font-family='"Liberation Serif",serif' font-size="100" transform="matrix(0.3374,0,0,0.3403,2147.31,1055.32)">−<tspan dx="-7">6</tspan></text>
<text font-family='"Liberation Serif",serif' font-size="100" transform="matrix(0.3385,0,0,0.3403,2241.91,1055.32)">−<tspan dx="-7">8</tspan></text>
<text font-family='"Liberation Serif",serif' font-size="100" transform="matrix(0.3255,0,0,0.3353,2328.67,1055.33)">−<tspan dx="-7">10</tspan></text>
<g style="isolation:isolate">
<text font-family='"Liberation Sans",sans-serif' font-size="100" fill="#ffb060" transform="matrix(0.4537,0,0,0.4826,1699.64,1139.50)">X (millimeters)</text>
<text font-family='"Liberation Sans",sans-serif' font-size="100" fill="#4090e0" transform="matrix(0.4537,0,0,0.4826,1704.44,1139.50)" style="mix-blend-mode:multiply">X (millimeters)</text>
</g>
</svg></body></html>
